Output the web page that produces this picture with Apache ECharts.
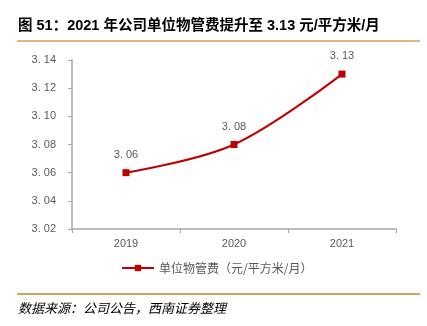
<!DOCTYPE html>
<html><head><meta charset="utf-8">
<script src="https://cdn.jsdelivr.net/npm/echarts@6/dist/echarts.min.js"></script>
<style>html,body{margin:0;padding:0;background:#fff}#c{width:427px;height:326px}</style>
</head><body><div id="c"></div>
<script>
const categories = ['2019', '2020', '2021'];
const values = [3.06, 3.08, 3.13];
const seriesName = '单位物管费（元/平方米/月）';
const yMin = 3.02, yMax = 3.14, yStep = 0.02;
const titleText = '图 51：2021 年公司单位物管费提升至 3.13 元/平方米/月';
const sourceText = '数据来源：公司公告，西南证券整理';

const fmt = v => v.toFixed(2).replace('.', '. ');
const chart = echarts.init(document.getElementById('c'));
chart.setOption({
  animation: false,
  backgroundColor: '#fff',
  textStyle: {fontFamily: 'Liberation Sans, Arial, Noto Sans CJK SC, sans-serif'},
  graphic: [
    {type: 'text', left: 18, top: 19, style: {text: titleText, font: 'bold 14.5px "Liberation Sans", "Noto Sans CJK SC", sans-serif', fill: '#000'}},
    {type: 'line', shape: {x1: 17, y1: 41, x2: 420, y2: 41}, style: {stroke: '#D4A05A', lineWidth: 1.5}},
    {type: 'line', shape: {x1: 17, y1: 294, x2: 420, y2: 294}, style: {stroke: '#D4A05A', lineWidth: 2}},
    {type: 'text', left: 18, top: 302, style: {text: sourceText, font: 'italic 13px "Noto Sans CJK SC", sans-serif', fill: '#000'}}
  ],
  grid: {left: 72, right: 31, top: 60, bottom: 97},
  legend: {
    bottom: 47, left: 116,
    data: [seriesName],
    itemWidth: 32, itemHeight: 8, itemGap: 4,
    textStyle: {color: '#595959', fontSize: 12, fontFamily: 'Noto Sans CJK SC'}
  },
  xAxis: {
    type: 'category', data: categories, boundaryGap: true,
    axisLine: {lineStyle: {color: '#A6A6A6', width: 1.5}},
    axisTick: {show: true, length: 4, lineStyle: {color: '#A6A6A6'}},
    axisLabel: {color: '#595959', fontSize: 11, margin: 9}
  },
  yAxis: {
    type: 'value', min: yMin, max: yMax, interval: yStep,
    splitLine: {show: false},
    axisLine: {show: true, lineStyle: {color: '#A6A6A6', width: 1.5}},
    axisTick: {show: true, inside: false, length: 4, lineStyle: {color: '#A6A6A6'}},
    axisLabel: {color: '#595959', fontSize: 11, margin: 16, formatter: v => fmt(v)}
  },
  series: [{
    name: seriesName, type: 'line', data: values, smooth: 0.35,
    symbol: 'rect', symbolSize: 7,
    itemStyle: {color: '#C00000'},
    lineStyle: {color: '#C00000', width: 2},
    label: {show: true, position: 'top', distance: 9, color: '#595959', fontSize: 11, formatter: p => fmt(p.value)}
  }]
});
</script></body></html>
